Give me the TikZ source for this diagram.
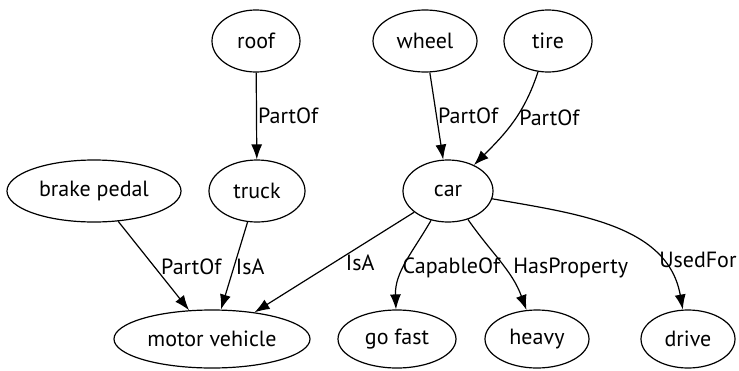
\documentclass[tikz,border=0pt]{standalone}
\usepackage{fontspec}
\setmainfont{PT Sans}
\usetikzlibrary{shapes.geometric,arrows.meta}

\begin{document}
\begin{tikzpicture}[x=1pt,y=-1pt,
  concept/.style={draw,ellipse,line width=1.2pt,inner sep=0pt,minimum height=62pt,
    font=\fontsize{22}{26}\selectfont},
  rel/.style={-{Latex[length=15pt,width=11pt]},line width=1.2pt},
  lbl/.style={right,inner sep=1pt,font=\fontsize{22}{26}\selectfont}]
\useasboundingbox (0,0) rectangle (739,370);

% top row
\node[concept,minimum width=88pt]  (roof)  at (256,41)  {roof};
\node[concept,minimum width=104pt] (wheel) at (425,41)  {wheel};
\node[concept,minimum width=88pt]  (tire)  at (548,41)  {tire};

% middle row
\node[concept,minimum width=174pt] (brake) at (94,191)  {brake pedal};
\node[concept,minimum width=96pt]  (truck) at (257,191) {truck};
\node[concept,minimum width=90pt]  (car)   at (448,191) {car};

% bottom row
\node[concept,minimum width=196pt,minimum height=58pt] (motor) at (212,339) {motor vehicle};
\node[concept,minimum width=118pt,minimum height=58pt] (fast)  at (397,339) {go fast};
\node[concept,minimum width=104pt,minimum height=58pt] (heavy) at (537,339) {heavy};
\node[concept,minimum width=94pt,minimum height=58pt]  (drive) at (688,339) {drive};

\draw[rel] (roof) -- node[lbl]{PartOf} (truck);
\draw[rel] (wheel) -- node[lbl,pos=.5]{PartOf} (car);
\draw[rel] (tire) to[out=-108,in=45] node[lbl,pos=.45,xshift=2pt]{PartOf} (car);

\draw[rel] (brake) -- node[lbl,pos=.5,xshift=6pt,yshift=-1pt]{PartOf} (motor);
\draw[rel] (truck) -- node[lbl,pos=.5,yshift=-1pt]{IsA} (motor);
\draw[rel] (car) -- node[lbl,pos=.5,xshift=10pt,yshift=-1pt]{IsA} (motor);
\draw[rel] (car) to[out=-120,in=92] node[lbl,pos=.55,xshift=-3pt,yshift=-1pt]{CapableOf} (fast);
\draw[rel] (car) to[out=-55,in=110] node[lbl,pos=.55,xshift=8pt,yshift=-1pt]{HasProperty} (heavy);
\draw[rel] (car) to[out=-10,in=100] node[lbl,pos=.75,xshift=-1pt,yshift=-1pt]{UsedFor} (drive);
\end{tikzpicture}
\end{document}
